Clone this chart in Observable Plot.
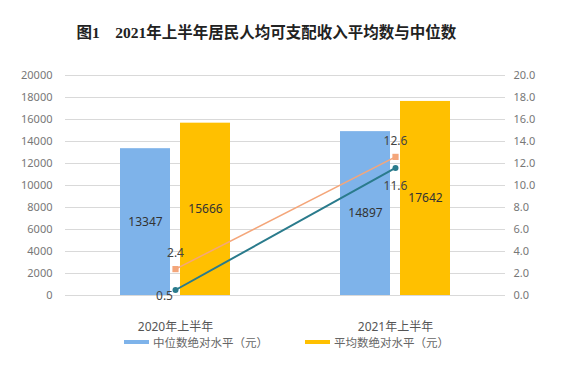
<!DOCTYPE html>
<html><head><meta charset="utf-8">
<script src="https://cdn.jsdelivr.net/npm/d3@7"></script>
<script src="https://cdn.jsdelivr.net/npm/@observablehq/plot@0.6"></script>
<style>
body{margin:0;background:#fff;width:567px;height:372px;overflow:hidden;position:relative;font-family:"Noto Sans","Noto Sans CJK SC",sans-serif;}
#title{position:absolute;left:0;top:20px;width:567px;text-align:center;padding-right:34px;box-sizing:border-box;font:bold 15.5px "Liberation Serif","Noto Sans CJK SC",serif;color:#222;white-space:pre;}
#chart{position:absolute;left:0;top:55px;}
.lg{position:absolute;top:334px;font-size:11.5px;color:#666;display:flex;align-items:center;font-family:"Noto Sans CJK SC",sans-serif;}
.sw{width:25px;height:4px;margin-right:4px;}
</style></head>
<body>
<div id="title">图1　2021年上半年居民人均可支配收入平均数与中位数</div>
<div id="chart"></div>
<div class="lg" style="left:124px"><span class="sw" style="background:#7eb3ea"></span>中位数绝对水平（元）</div>
<div class="lg" style="left:305px"><span class="sw" style="background:#ffc000"></span>平均数绝对水平（元）</div>
<script>
const groups = ["2020年上半年", "2021年上半年"];
const median = [13347, 14897];
const mean = [15666, 17642];
const meanGrowth = [2.4, 12.6];
const medianGrowth = [0.5, 11.6];
const leftTicks = [0,2000,4000,6000,8000,10000,12000,14000,16000,18000,20000];

const blue = "#7eb3ea", yellow = "#ffc000", orange = "#f4a67a", teal = "#2a7b8c";
const medData = groups.map((g,i)=>({g, v: median[i]}));
const meanData = groups.map((g,i)=>({g, v: mean[i]}));
const mg = groups.map((g,i)=>({g, v: meanGrowth[i]*1000, t: meanGrowth[i].toFixed(1)}));
const dg = groups.map((g,i)=>({g, v: medianGrowth[i]*1000, t: medianGrowth[i].toFixed(1)}));

const plot = Plot.plot({
  width: 567, height: 280,
  marginLeft: 65, marginRight: 62, marginTop: 20, marginBottom: 40,
  style: {fontFamily: "'Noto Sans','Noto Sans CJK SC',sans-serif", background: "transparent"},
  x: {type: "band", domain: groups, padding: 0, label: null},
  y: {domain: [0, 20000], label: null},
  marks: [
    Plot.ruleY(leftTicks, {stroke: "#d9d9d9", strokeWidth: 1}),
    Plot.axisY(leftTicks, {anchor: "left", tickSize: 0, tickPadding: 13, fontSize: 11, fill: "#777", label: null, tickFormat: d => String(d)}),
    Plot.axisY(leftTicks, {anchor: "right", tickSize: 0, tickPadding: 8, fontSize: 11, fill: "#777", label: null, tickFormat: d => (d/1000).toFixed(1)}),
    Plot.axisX({tickSize: 0, tickPadding: 27, fontSize: 12, fill: "#555", label: null}),
    Plot.barY(medData, {x: "g", y: "v", fill: blue, insetLeft: 85, insetRight: 85, dx: -30}),
    Plot.barY(meanData, {x: "g", y: "v", fill: yellow, insetLeft: 85, insetRight: 85, dx: 30}),
    Plot.text(medData, {x: "g", y: d => d.v/2, text: d => String(d.v), dx: -30, fontSize: 12, fill: "#333"}),
    Plot.text(meanData, {x: "g", y: d => d.v/2, text: d => String(d.v), dx: 30, fontSize: 12, fill: "#333"}),
    Plot.line(mg, {x: "g", y: "v", stroke: orange, strokeWidth: 1.5}),
    Plot.dot(mg, {x: "g", y: "v", symbol: "square", r: 3.5, fill: orange}),
    Plot.line(dg, {x: "g", y: "v", stroke: teal, strokeWidth: 2}),
    Plot.dot(dg, {x: "g", y: "v", symbol: "circle", r: 3, fill: teal}),
    Plot.text(mg, {x: "g", y: "v", text: "t", dy: -16, fontSize: 12, fill: "#444"}),
    Plot.text(dg.slice(0,1), {x: "g", y: "v", text: "t", dx: -11, dy: 6, fontSize: 12, fill: "#444"}),
    Plot.text(dg.slice(1), {x: "g", y: "v", text: "t", dy: 18, fontSize: 12, fill: "#444"})
  ]
});
document.getElementById("chart").appendChild(plot);
</script>
</body></html>
